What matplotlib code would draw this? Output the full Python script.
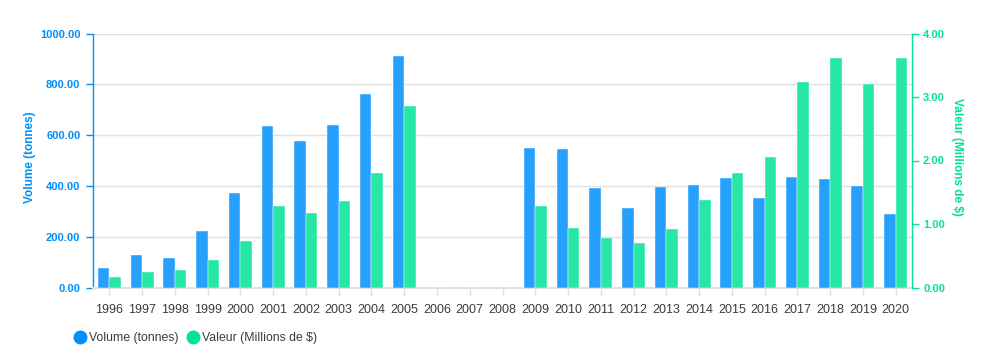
import matplotlib
matplotlib.use("Agg")
import matplotlib.pyplot as plt
import numpy as np
from matplotlib.lines import Line2D

plt.rcParams['font.family'] = ['Liberation Sans', 'DejaVu Sans']

years = [str(y) for y in range(1996, 2021)]
volume = [75, 127, 116, 221, 371, 636, 578, 640, 763, 911,
          None, None, None,
          550, 545, 393, 314, 397, 403, 432, 352, 435, 427, 399, 290]
valeur = [0.16, 0.25, 0.27, 0.43, 0.73, 1.29, 1.17, 1.37, 1.80, 2.86,
          None, None, None,
          1.29, 0.93, 0.78, 0.70, 0.92, 1.38, 1.80, 2.06, 3.23, 3.62, 3.20, 3.62]
left_ticks = [0, 200, 400, 600, 800, 1000]
right_ticks = [0, 1, 2, 3, 4]

BLUE = '#008FFB'
GREEN = '#00E396'
BLUE_BAR = '#26A0FC'
GREEN_BAR = '#26E7A6'
TXT = '#373d3f'
GRID = '#e0e0e0'

W, H = 986, 350
fig = plt.figure(figsize=(W / 100, H / 100), dpi=100)
L, R, T, B = 93, 912, 33.5, 287.5
ax = fig.add_axes([L / W, 1 - B / H, (R - L) / W, (B - T) / H])
ax2 = ax.twinx()

x = np.arange(len(years))
bw = 0.35
vol = np.array([np.nan if v is None else v for v in volume], dtype=float)
val = np.array([np.nan if v is None else v for v in valeur], dtype=float)
ax.bar(x - bw / 2, np.nan_to_num(vol), width=bw, color=BLUE_BAR, zorder=3,
       edgecolor='white', linewidth=0.3)
ax2.bar(x + bw / 2, np.nan_to_num(val), width=bw, color=GREEN_BAR, zorder=3,
        edgecolor='white', linewidth=0.3)

ax.set_xlim(-0.5, len(years) - 0.5)
ax.set_ylim(0, 1000)
ax2.set_ylim(0, 4)
ax.set_yticks(left_ticks)
ax.set_yticklabels([f"{t:.2f}" for t in left_ticks])
ax2.set_yticks(right_ticks)
ax2.set_yticklabels([f"{t:.2f}" for t in right_ticks])
ax.set_xticks(x)
ax.set_xticklabels(years)

ax.grid(axis='y', color=GRID, linewidth=1, zorder=0)
ax.set_axisbelow(True)

for s in ['top', 'right']:
    ax.spines[s].set_visible(False)
for s in ['top', 'left', 'bottom']:
    ax2.spines[s].set_visible(False)
ax.spines['left'].set_color(BLUE)
ax.spines['left'].set_linewidth(1)
ax.spines['bottom'].set_color(GRID)
ax.spines['bottom'].set_linewidth(1.5)
ax2.spines['right'].set_color(GREEN)
ax2.spines['right'].set_linewidth(1)

ax.tick_params(axis='y', colors=BLUE, labelsize=8, length=5, width=1, pad=4)
ax.tick_params(axis='x', colors=GRID, labelcolor=TXT, labelsize=9, length=6, width=1, pad=6)
ax2.tick_params(axis='y', colors=GREEN, labelsize=8, length=5, width=1, pad=3)
for lbl in ax.get_yticklabels():
    lbl.set_fontweight('bold')
for lbl in ax2.get_yticklabels():
    lbl.set_fontweight('bold')

fig.text(30 / W, 1 - 157 / H, 'Volume (tonnes)', rotation=90, color=BLUE,
         fontsize=8.5, fontweight='bold', ha='center', va='center')
fig.text(957 / W, 1 - 157 / H, 'Valeur (Millions de $)', rotation=-90, color=GREEN,
         fontsize=8.5, fontweight='bold', ha='center', va='center')

handles = [Line2D([], [], marker='o', linestyle='none', markersize=9, color=BLUE),
           Line2D([], [], marker='o', linestyle='none', markersize=9, color=GREEN)]
fig.legend(handles, ['Volume (tonnes)', 'Valeur (Millions de $)'],
           loc='center left', bbox_to_anchor=(67 / W, 1 - 338 / H), ncol=2,
           frameon=False, fontsize=8.8, handletextpad=0.1, columnspacing=0.6,
           labelcolor=TXT, borderpad=0, handlelength=1.2)

fig.savefig('out.png', dpi=100)
